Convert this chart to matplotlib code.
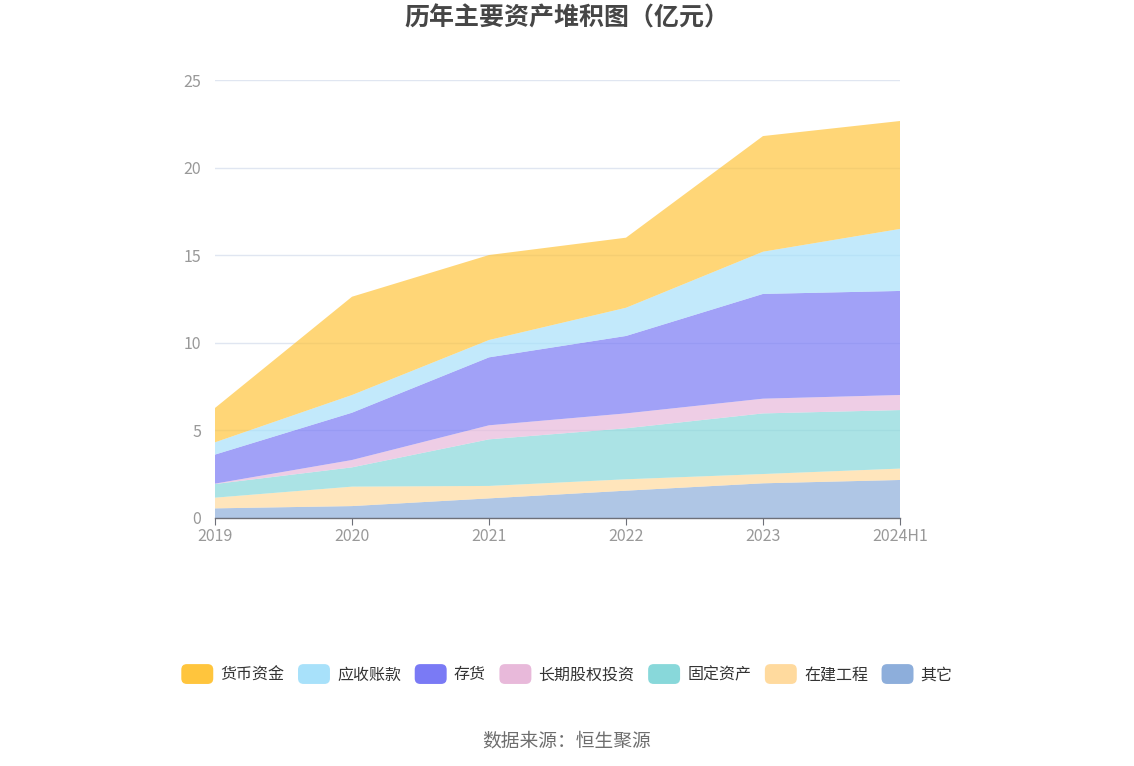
import matplotlib
matplotlib.use("Agg")
import matplotlib.pyplot as plt
from matplotlib.patches import FancyBboxPatch, Patch
from matplotlib.legend_handler import HandlerPatch
import numpy as np

plt.rcParams['font.family'] = ['Noto Sans CJK SC', 'DejaVu Sans']

years = ["2019", "2020", "2021", "2022", "2023", "2024H1"]
series_names = ["其它", "在建工程", "固定资产", "长期股权投资", "存货", "应收账款", "货币资金"]
other = [0.55, 0.68, 1.12, 1.56, 1.98, 2.17]
construction = [0.61, 1.11, 0.71, 0.65, 0.53, 0.65]
fixed_assets = [0.78, 1.10, 2.66, 2.91, 3.46, 3.34]
equity_invest = [0.02, 0.42, 0.80, 0.85, 0.84, 0.86]
inventory = [1.66, 2.70, 3.88, 4.42, 5.98, 5.94]
receivables = [0.70, 1.01, 0.99, 1.61, 2.41, 3.54]
cash = [1.96, 5.61, 4.85, 4.00, 6.60, 6.16]

colors = ["#8DAEDB", "#FFDA9E", "#88D8DA", "#E8B9DA", "#7A7AF5", "#A8E1FA", "#FFC53D"]

fig = plt.figure(figsize=(11.34, 7.66), dpi=100)
ax = fig.add_axes([215/1134, 1-518/766, (900-215)/1134, (518-80)/766])

x = np.arange(len(years))
data = [other, construction, fixed_assets, equity_invest, inventory, receivables, cash]
ax.stackplot(x, *data, colors=colors, alpha=0.7, linewidth=0)

ax.set_xlim(0, len(years) - 1)
ax.set_ylim(0, 25)
ax.set_yticks([0, 5, 10, 15, 20, 25])
ax.set_xticks(x)
ax.set_xticklabels(years)
ax.grid(axis='y', color='#E0E6F1', linewidth=1)
ax.set_axisbelow(True)
for s in ['top', 'right', 'left']:
    ax.spines[s].set_visible(False)
ax.spines['bottom'].set_color('#6E7079')
ax.spines['bottom'].set_linewidth(1)
ax.spines['bottom'].set_zorder(5)
ax.tick_params(axis='y', length=0, labelsize=11.5, labelcolor='#999999', pad=10)
ax.tick_params(axis='x', length=5, color='#6E7079', labelsize=11.5, labelcolor='#999999', pad=2)

fig.text(0.5, 1-18/766, "历年主要资产堆积图（亿元）", ha='center', va='center',
         fontsize=18, fontweight='bold', color='#464646')
fig.text(0.5, 1-741/766, "数据来源：恒生聚源", ha='center', va='center',
         fontsize=13.5, color='#6E6E6E')


class RoundHandler(HandlerPatch):
    def create_artists(self, legend, orig_handle, xdescent, ydescent, width, height, fontsize, trans):
        p = FancyBboxPatch((-xdescent, -ydescent - 2), width, height + 4,
                           boxstyle="round,pad=0,rounding_size=4",
                           facecolor=orig_handle.get_facecolor(), edgecolor='none',
                           transform=trans)
        return [p]


legend_order = ["货币资金", "应收账款", "存货", "长期股权投资", "固定资产", "在建工程", "其它"]
handles = []
for name in legend_order:
    c = colors[series_names.index(name)]
    handles.append(Patch(facecolor=c, label=name))
fig.legend(handles=handles, loc='center', bbox_to_anchor=(567/1134, 1-675/766), ncol=7,
           frameon=False, fontsize=11.5, handlelength=2.0, handleheight=1.0,
           handletextpad=0.45, columnspacing=0.85, labelcolor='#333333',
           handler_map={Patch: RoundHandler()})

fig.savefig("out.png", dpi=100)
